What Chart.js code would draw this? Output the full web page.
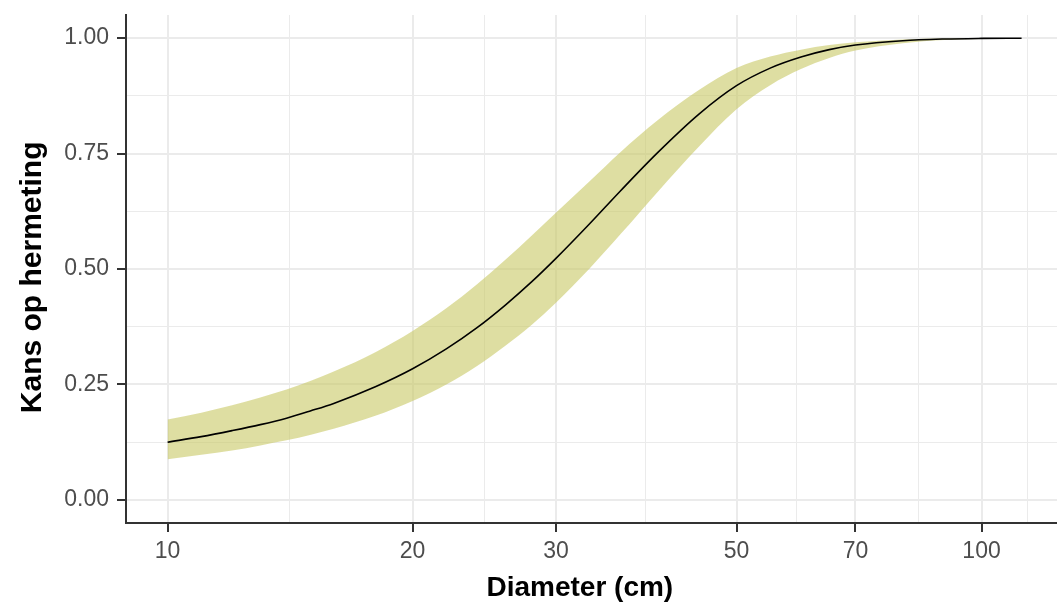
<!DOCTYPE html>
<html>
<head>
<meta charset="utf-8">
<script src="https://cdn.jsdelivr.net/npm/chart.js@4"></script>
<style>
  html, body { margin: 0; padding: 0; background: #fff; }
  #chart { display: block; }
</style>
</head>
<body>
<canvas id="chart" width="1057" height="609"></canvas>
<script>
// --- Data ---
const diameter = [10, 11, 12, 13, 14, 15, 16, 18, 20, 22, 24, 26, 28, 30, 33, 36, 40, 45, 50, 55, 60, 65, 70, 80, 90, 100, 112];
const kans     = [0.125, 0.137, 0.150, 0.163, 0.177, 0.193, 0.209, 0.245, 0.284, 0.327, 0.373, 0.422, 0.472, 0.523, 0.598, 0.669, 0.752, 0.836, 0.897, 0.935, 0.959, 0.975, 0.985, 0.9944, 0.998, 0.9993, 0.9998];
const kansLow  = [0.088, 0.098, 0.107, 0.118, 0.129, 0.141, 0.154, 0.182, 0.214, 0.250, 0.290, 0.334, 0.379, 0.427, 0.501, 0.575, 0.667, 0.766, 0.846, 0.898, 0.933, 0.957, 0.973, 0.989, 0.996, 0.998, 0.9995];
const kansHigh = [0.174, 0.189, 0.205, 0.222, 0.239, 0.258, 0.278, 0.320, 0.366, 0.415, 0.467, 0.520, 0.572, 0.622, 0.690, 0.753, 0.822, 0.888, 0.935, 0.960, 0.975, 0.985, 0.991, 0.997, 0.999, 0.9997, 0.9999];

const xMajor = [10, 20, 30, 50, 70, 100];
const xMinor = [14.1, 24.5, 38.7, 59.2, 83.7, 114];
const yMajor = [0, 0.25, 0.5, 0.75, 1];
const yMinor = [0.125, 0.375, 0.625, 0.875];

const FONT = '"Liberation Sans", Arial, Helvetica, sans-serif';
const GRID = '#ebebeb';
const AXIS = '#333333';

const pts = (ys) => diameter.map((d, i) => ({ x: d, y: ys[i] }));
const isMajor = (list, v) => list.some(m => Math.abs(m - v) < 1e-6);
// keep the plot area where the reference has it
const noPad = s => { s.paddingTop = 0; s.paddingBottom = 0; s.paddingLeft = 0; s.paddingRight = 0; };

new Chart(document.getElementById('chart'), {
  type: 'line',
  data: {
    datasets: [
      { data: pts(kans), borderColor: '#000', borderWidth: 1.6, pointRadius: 0, fill: false, cubicInterpolationMode: 'monotone' },
      { data: pts(kansLow), borderWidth: 0, borderColor: 'transparent', pointRadius: 0, fill: false, cubicInterpolationMode: 'monotone' },
      { data: pts(kansHigh), borderWidth: 0, borderColor: 'transparent', pointRadius: 0, fill: '-1',
        backgroundColor: 'rgba(200,200,100,0.6)', cubicInterpolationMode: 'monotone' }
    ]
  },
  options: {
    responsive: false, animation: false, devicePixelRatio: 1,
    layout: { padding: { top: 15, right: 0, bottom: 0, left: 0 } },
    plugins: { legend: { display: false }, tooltip: { enabled: false } },
    scales: {
      x: {
        type: 'logarithmic', min: 8.89, max: 123.8,
        afterBuildTicks: s => { s.ticks = xMajor.concat(xMinor).sort((a, b) => a - b).map(v => ({ value: v })); },
        afterFit: s => { s.height = 86; noPad(s); },
        ticks: {
          autoSkip: false, maxRotation: 0, padding: 6, color: '#4d4d4d', font: { family: FONT, size: 23 },
          callback: v => isMajor(xMajor, v) ? String(v) : ''
        },
        grid: {
          color: GRID,
          lineWidth: c => (c.tick && isMajor(xMajor, c.tick.value)) ? 2 : 1,
          tickLength: 9, tickWidth: 2,
          tickColor: c => (c.tick && isMajor(xMajor, c.tick.value)) ? AXIS : 'transparent'
        },
        border: { display: true, color: AXIS, width: 2 },
        title: { display: true, text: 'Diameter (cm)   ', color: '#000', font: { family: FONT, size: 28, weight: 'bold' }, padding: { top: 0, bottom: 4 } }
      },
      y: {
        min: -0.05, max: 1.05,
        afterBuildTicks: s => { s.ticks = yMajor.concat(yMinor).sort((a, b) => a - b).map(v => ({ value: v })); },
        afterFit: s => { s.width = 126; noPad(s); },
        ticks: {
          autoSkip: false, padding: 8, color: '#4d4d4d', font: { family: FONT, size: 23 },
          callback: v => isMajor(yMajor, v) ? v.toFixed(2) : ''
        },
        grid: {
          color: GRID,
          lineWidth: c => (c.tick && isMajor(yMajor, c.tick.value)) ? 2 : 1,
          tickLength: 9, tickWidth: 2,
          tickColor: c => (c.tick && isMajor(yMajor, c.tick.value)) ? AXIS : 'transparent'
        },
        border: { display: true, color: AXIS, width: 2 },
        title: { display: true, text: 'Kans op hermeting  ', color: '#000', font: { family: FONT, size: 30, weight: 'bold' }, padding: { top: 15, bottom: 0 } }
      }
    }
  }
});
</script>
</body>
</html>
